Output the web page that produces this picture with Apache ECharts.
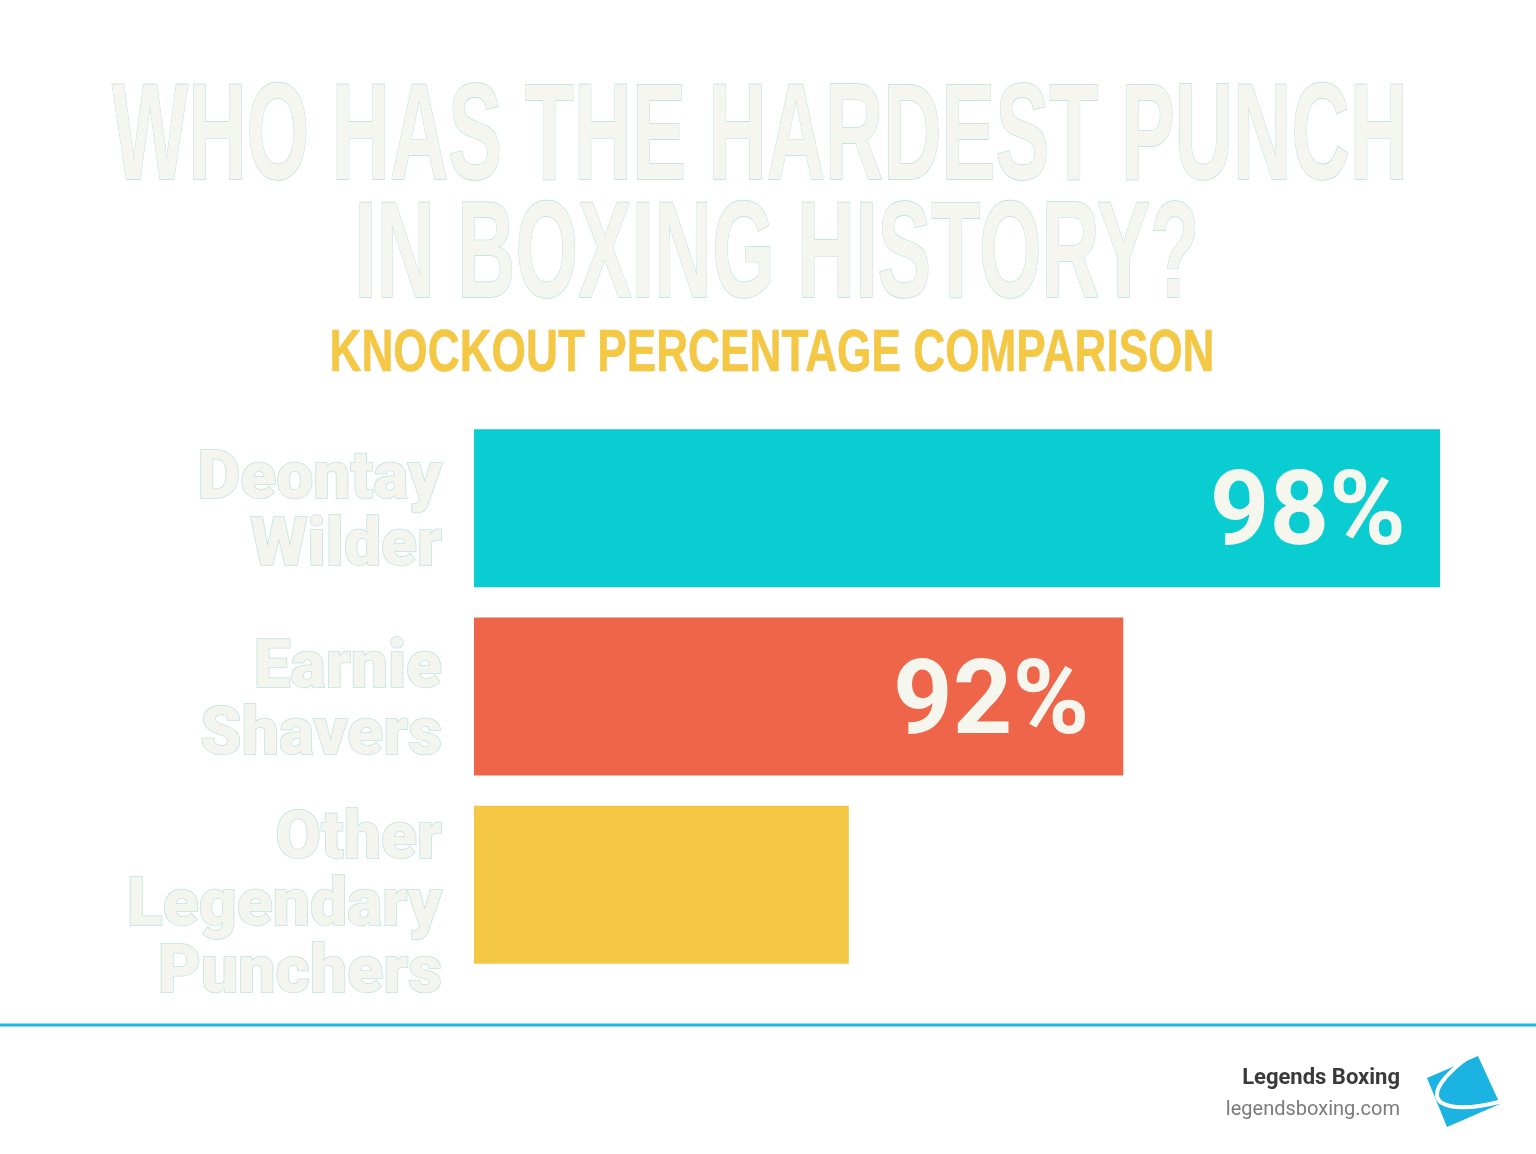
<!DOCTYPE html>
<html>
<head>
<meta charset="utf-8">
<script src="https://cdn.jsdelivr.net/npm/echarts@6/dist/echarts.min.js"></script>
<style>
  html, body { margin: 0; padding: 0; background: #ffffff; }
  #chart { width: 1536px; height: 1154px; }
</style>
</head>
<body>
<div id="chart"></div>
<script>
  // data
  var fighters = ['Deontay\nWilder', 'Earnie\nShavers', 'Other\nLegendary\nPunchers'];
  var koPercent = [98, 92, 86.8];
  var showLabel = [true, true, false];
  var barColors = ['#0acdd1', '#ef6549', '#f4c744'];

  var titleLines = ['WHO HAS THE HARDEST PUNCH', 'IN BOXING HISTORY?'];
  var subTitle = 'KNOCKOUT PERCENTAGE COMPARISON';

  var titleFont = '"Liberation Sans", Arial, sans-serif';
  var labelFont = 'Roboto, "Liberation Sans", sans-serif';

  // squeeze wide text to the width it has in the picture
  function fitScale(text, font, target) {
    var ctx = document.createElement('canvas').getContext('2d');
    ctx.font = font;
    var w = ctx.measureText(text).width;
    return w > 0 ? target / w : 1;
  }

  var s1 = fitScale(titleLines[0], 'bold 137px ' + titleFont, 1296);
  var s2 = fitScale(titleLines[1], 'bold 137px ' + titleFont, 845);
  var s3 = fitScale(subTitle, 'bold 60px ' + titleFont, 885);

  var barData = [];
  for (var i = 0; i < koPercent.length; i++) {
    barData.push({
      value: koPercent[i],
      itemStyle: {color: barColors[i]},
      label: {show: showLabel[i]}
    });
  }

  var chart = echarts.init(document.getElementById('chart'));
  var option = {
    backgroundColor: '#ffffff',
    animation: false,
    grid: {left: 474, right: 96, top: 414, height: 565, containLabel: false},
    xAxis: {
      type: 'value',
      min: 79.7,
      max: 98,
      show: false
    },
    yAxis: {
      type: 'category',
      inverse: true,
      data: fighters,
      axisLine: {show: false},
      axisTick: {show: false},
      splitLine: {show: false},
      axisLabel: {
        interval: 0,
        hideOverlap: false,
        margin: 32,
        fontFamily: labelFont,
        fontWeight: 900,
        fontSize: 66,
        lineHeight: 67,
        color: '#f3f5ee',
        textBorderColor: '#bfe3df',
        textBorderWidth: 1.5,
        align: 'right',
        // a blank spacer line on top nudges each name down a little
        formatter: function (val, idx) {
          return (idx === 2 ? '{big|\u200b}' : '{small|\u200b}') + '\n' + val;
        },
        rich: {
          small: {height: 14, lineHeight: 14, fontSize: 1},
          big: {height: 48, lineHeight: 48, fontSize: 1}
        }
      }
    },
    series: [{
      type: 'bar',
      clip: true,
      barWidth: 158,
      data: barData,
      label: {
        position: 'insideRight',
        distance: 34,
        offset: [0, 10],
        formatter: '{c}%',
        fontFamily: labelFont,
        fontWeight: 'bold',
        fontSize: 104,
        color: '#f5f6ee'
      }
    }],
    graphic: [
      {
        type: 'text', x: 760, y: 141, scaleX: s1,
        style: {
          text: titleLines[0], align: 'center', verticalAlign: 'middle',
          font: 'bold 137px ' + titleFont,
          fill: '#f4f6ef', stroke: '#b8e0dc', lineWidth: 1.4
        }
      },
      {
        type: 'text', x: 777, y: 259, scaleX: s2,
        style: {
          text: titleLines[1], align: 'center', verticalAlign: 'middle',
          font: 'bold 137px ' + titleFont,
          fill: '#f4f6ef', stroke: '#b8e0dc', lineWidth: 1.4
        }
      },
      {
        type: 'text', x: 772, y: 354, scaleX: s3,
        style: {
          text: subTitle, align: 'center', verticalAlign: 'middle',
          font: 'bold 60px ' + titleFont,
          fill: '#f5c843', stroke: '#e9c36a', lineWidth: 0.6
        }
      },
      {
        type: 'line',
        shape: {x1: 0, y1: 1025, x2: 1536, y2: 1025},
        style: {stroke: '#1bb9e3', lineWidth: 3}
      },
      {
        type: 'text', x: 1400, y: 1078,
        style: {
          text: 'Legends Boxing', align: 'right', verticalAlign: 'middle',
          font: 'bold 22px Roboto, sans-serif', fill: '#3a3a3a'
        }
      },
      {
        type: 'text', x: 1400, y: 1110,
        style: {
          text: 'legendsboxing.com', align: 'right', verticalAlign: 'middle',
          font: '20px Roboto, sans-serif', fill: '#7a7a7a'
        }
      },
      {
        type: 'polygon',
        shape: {points: [[1427, 1078], [1478, 1056], [1500, 1104], [1447, 1127]]},
        style: {fill: '#1bb4e2'}
      },
      {
        type: 'bezierCurve',
        shape: {x1: 1470, y1: 1056, cpx1: 1445, cpy1: 1074, cpx2: 1428, cpy2: 1094, x2: 1442, y2: 1103},
        style: {fill: 'none', stroke: '#ffffff', lineWidth: 4}
      },
      {
        type: 'bezierCurve',
        shape: {x1: 1442, y1: 1103, cpx1: 1456, cpy1: 1111, cpx2: 1480, cpy2: 1107, x2: 1503, y2: 1101},
        style: {fill: 'none', stroke: '#ffffff', lineWidth: 4}
      }
    ]
  };
  chart.setOption(option);
</script>
</body>
</html>
